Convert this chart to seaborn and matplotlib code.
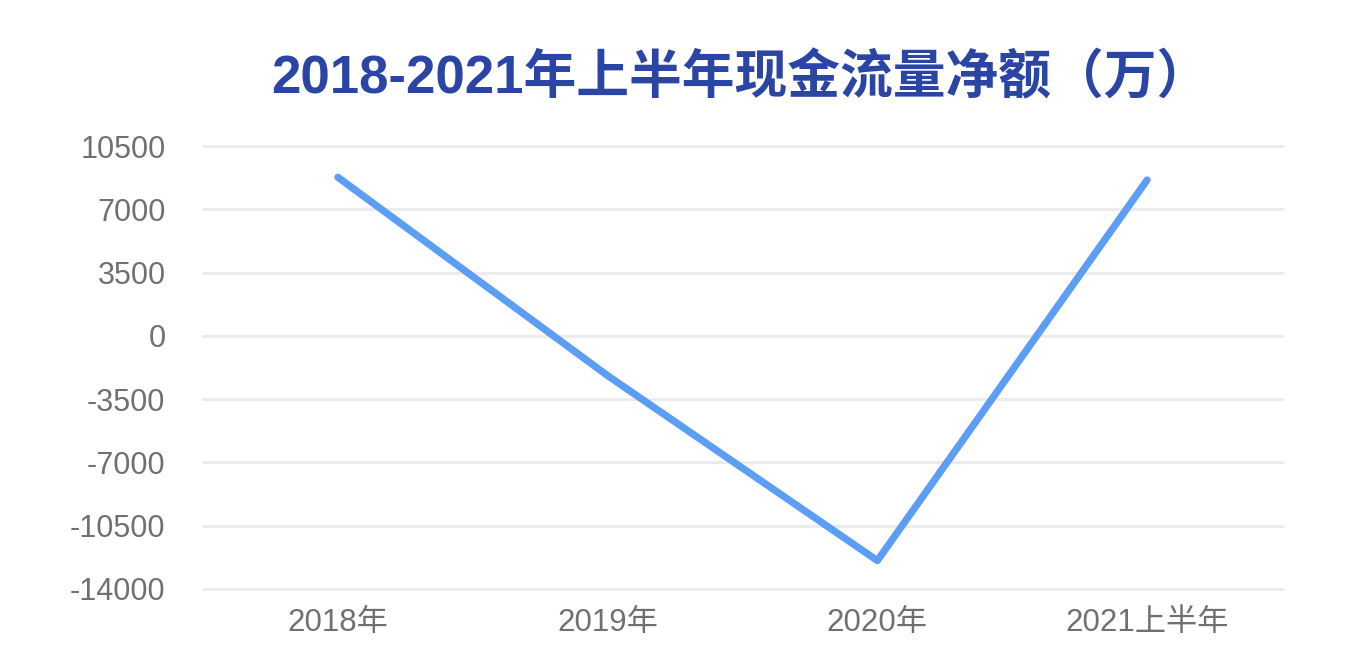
import numpy as np
import pandas as pd
import matplotlib
matplotlib.use('Agg')
import matplotlib.pyplot as plt
import seaborn as sns

# Data
years = ['2018年', '2019年', '2020年', '2021上半年']
net_cash = [8770, -2200, -12430, 8620]
y_ticks = [-14000, -10500, -7000, -3500, 0, 3500, 7000, 10500]

df = pd.DataFrame({'year': years, 'net_cash': net_cash})

sns.set_theme(style='white')
plt.rcParams['font.family'] = ['Liberation Sans', 'Noto Sans CJK SC', 'DejaVu Sans']

fig = plt.figure(figsize=(13.58, 6.68), dpi=100)
ax = fig.add_axes([203 / 1358, 1 - 589 / 668, (1282 - 203) / 1358, (589 - 146) / 668])

sns.lineplot(data=df, x='year', y='net_cash', sort=False, color='#5b9ef4',
             linewidth=5.2, solid_capstyle='round', solid_joinstyle='round', ax=ax)

ax.set_xlim(-0.5, len(years) - 0.5)
ax.set_ylim(y_ticks[0], y_ticks[-1])
ax.set_yticks(y_ticks)
ax.set_yticklabels([str(t) for t in y_ticks])
ax.grid(axis='y', color='#ececec', linewidth=2.2)
ax.grid(axis='x', visible=False)
for gl in ax.get_ygridlines():
    gl.set_clip_on(False)
ax.set_axisbelow(True)
for s in ax.spines.values():
    s.set_visible(False)
ax.tick_params(axis='y', length=0, pad=27, labelsize=22, labelcolor='#707070')
ax.tick_params(axis='x', length=0, pad=14, labelsize=22.5, labelcolor='#707070')
ax.set_xlabel('')
ax.set_ylabel('')

fig.text(0.545, 0.882, '2018-2021年上半年现金流量净额（万）', ha='center', va='center',
         fontsize=38, fontweight='bold', color='#2b45a5')

fig.savefig('out.png', dpi=100, facecolor='white')
